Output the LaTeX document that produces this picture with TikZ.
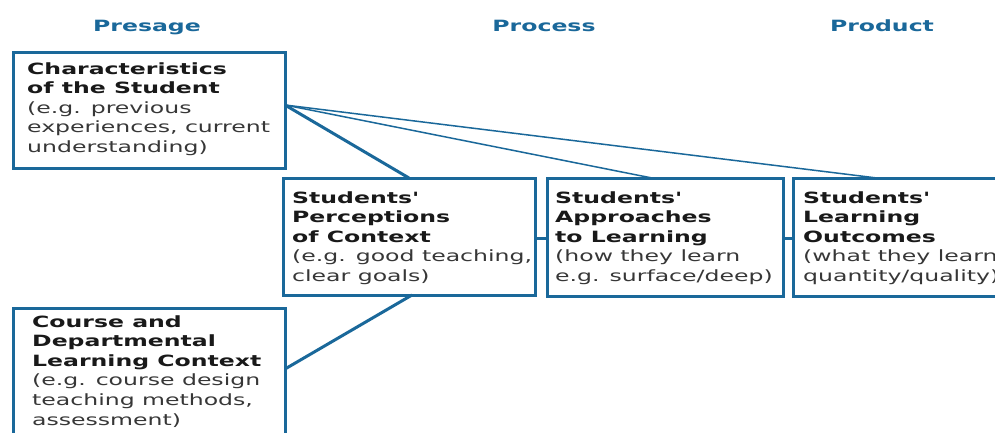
\documentclass[tikz,border=0pt]{standalone}
\usepackage{fontspec}
\setmainfont[FakeStretch=1.52]{DejaVu Sans}
\usetikzlibrary{calc}
\definecolor{bblue}{RGB}{26,104,154}
\definecolor{txtb}{RGB}{25,25,25}
\definecolor{txtg}{RGB}{55,55,55}
\newcommand\hd[1]{{\color{txtb}\bfseries #1}}
\tikzset{
  box/.style={draw=bblue, line width=3pt, inner sep=0pt, outer sep=0pt, anchor=north west},
  lbl/.style={anchor=base west, inner sep=0pt, font=\fontsize{15.5}{19.6}\selectfont, text=txtg},
  head/.style={anchor=base, inner sep=0pt, font=\fontsize{15.5}{19.6}\selectfont\bfseries, text=bblue},
  conn/.style={draw=bblue, line width=3pt},
  thinconn/.style={draw=bblue, line width=1.5pt}
}
\begin{document}
\begin{tikzpicture}[x=1pt,y=-1pt]
\useasboundingbox (0,0) rectangle (995,432);
\clip (0,0) rectangle (995,432);
\fill[white] (0,0) rectangle (995,432);
% headings
\node[head] (hpre) at (147,31) {Presage};
\node[head] (hpro) at (544,31) {Process};
\node[head] (hprd) at (882,31) {Product};
% boxes
\node[box, minimum width=272pt, minimum height=116pt] (b1) at (13,52) {};
\node[box, minimum width=252pt, minimum height=117pt] (b2) at (283,178) {};
\node[box, minimum width=236pt, minimum height=118pt] (b3) at (547,178) {};
\node[box, minimum width=230pt, minimum height=118pt] (b4) at (793,178) {};
\node[box, minimum width=272pt, minimum height=140pt] (b5) at (13,308) {};
% texts
\node[lbl] (t1) at ($(b1.north west)+(14,22)$) {\begin{tabular}[t]{@{}l@{}}\hd{Characteristics}\\ \hd{of the Student}\\ (e.g. previous\\ experiences, current\\ understanding)\end{tabular}};
\node[lbl] (t2) at ($(b2.north west)+(9,25)$) {\begin{tabular}[t]{@{}l@{}}\hd{Students\textquotesingle}\\ \hd{Perceptions}\\ \hd{of Context}\\ (e.g. good teaching,\\ clear goals)\end{tabular}};
\node[lbl] (t3) at ($(b3.north west)+(8,25)$) {\begin{tabular}[t]{@{}l@{}}\hd{Students\textquotesingle}\\ \hd{Approaches}\\ \hd{to Learning}\\ (how they learn\\ e.g. surface/deep)\end{tabular}};
\node[lbl] (t4) at ($(b4.north west)+(10,25)$) {\begin{tabular}[t]{@{}l@{}}\hd{Students\textquotesingle}\\ \hd{Learning}\\ \hd{Outcomes}\\ (what they learn\\ quantity/quality)\end{tabular}};
\node[lbl] (t5) at ($(b5.north west)+(19,19)$) {\begin{tabular}[t]{@{}l@{}}\hd{Course and}\\ \hd{Departmental}\\ \hd{Learning Context}\\ (e.g. course design\\ teaching methods,\\ assessment)\end{tabular}};
% connectors
\coordinate (c1) at (b1.east |- 0,105);
\coordinate (c5) at (b5.east |- 0,369);
\draw[conn] (c1) -- (b2.north);
\draw[thinconn] (c1) -- (b3.north -| 652,0);
\draw[thinconn] (c1) -- (b4.north -| 877,0);
\draw[conn] (c5) -- (b2.south -| 412,0);
\draw[conn] (b2.east |- 0,238) -- (b3.west |- 0,238);
\draw[conn] (b3.east |- 0,238) -- (b4.west |- 0,238);
\end{tikzpicture}
\end{document}
